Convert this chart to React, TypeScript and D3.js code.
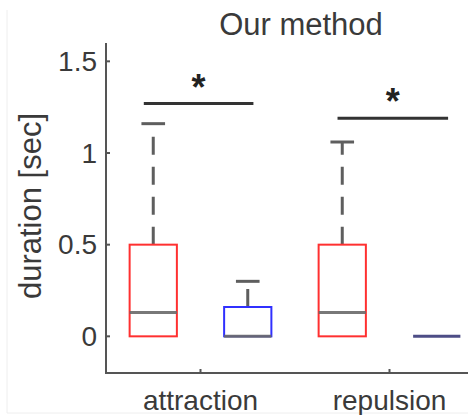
import React from 'react';
import { scaleLinear } from 'd3';

// chart data
const categories = ['attraction', 'repulsion'];
const yTicks = [0, 0.5, 1, 1.5];

// red boxes (left of each category)
const redQ1 = [0, 0];
const redMedian = [0.13, 0.13];
const redQ3 = [0.5, 0.5];
const redWhiskerHigh = [1.16, 1.06];

// blue boxes (right of each category)
const blueQ1 = [0, 0];
const blueMedian = [0, 0];
const blueQ3 = [0.16, 0];
const blueWhiskerHigh = [0.3, 0];

// significance bars
const sigY = [1.27, 1.19];
const sigX0 = [0.7, 1.725];
const sigX1 = [1.28, 2.31];
const sigLabel = ['*', '*'];

const W = 468;
const H = 415;
const font = 'Arial, "Liberation Sans", Helvetica, sans-serif';
const textColor = '#3a3a3a';
const axisColor = '#555';

const x = scaleLinear().domain([0.5, 2.5]).range([106, 484]);
const y = scaleLinear().domain([-0.2, 1.6]).range([373, 43]);

const boxW = 0.25;
const offset = 0.25;

type Box = { pos: number; q1: number; med: number; q3: number; hi: number; color: string };

const boxes: Box[] = [];
categories.forEach((_, i) => {
  boxes.push({ pos: i + 1 - offset, q1: redQ1[i], med: redMedian[i], q3: redQ3[i], hi: redWhiskerHigh[i], color: '#ff3030' });
  boxes.push({ pos: i + 1 + offset, q1: blueQ1[i], med: blueMedian[i], q3: blueQ3[i], hi: blueWhiskerHigh[i], color: '#3030ff' });
});

const BoxPlot = ({ b }: { b: Box }) => {
  const xl = x(b.pos - boxW / 2);
  const xr = x(b.pos + boxW / 2);
  const xc = x(b.pos);
  const capHalf = (xr - xl) / 4;
  return (
    <g>
      {b.hi > b.q3 && (
        <>
          <line x1={xc} x2={xc} y1={y(b.q3)} y2={y(b.hi)} stroke="#5e5e5e" strokeWidth={3} strokeDasharray="18,12" />
          <line x1={xc - capHalf} x2={xc + capHalf} y1={y(b.hi)} y2={y(b.hi)} stroke="#5e5e5e" strokeWidth={3} />
        </>
      )}
      <rect x={xl} y={y(b.q3)} width={xr - xl} height={y(b.q1) - y(b.q3)} fill="none" stroke={b.color} strokeWidth={2} />
      <line x1={xl} x2={xr} y1={y(b.med)} y2={y(b.med)} stroke={b.q3 === b.q1 ? '#3a3a7a' : '#6a6a6a'} strokeWidth={3} opacity={0.9} />
    </g>
  );
};

const App = () => {
  return (
    <svg width={W} height={H} style={{ position: 'absolute', left: 0, top: 0, background: '#fff' }} fontFamily={font}>
      {/* faint frame from the source figure */}
      <line x1={7} x2={7} y1={10} y2={413} stroke="#eee" strokeWidth={1} />
      <line x1={7} x2={W} y1={413} y2={413} stroke="#eee" strokeWidth={1} />

      {/* title */}
      <text x={301} y={35} textAnchor="middle" fontSize={31} fill={textColor}>Our method</text>

      {/* y label */}
      <text transform={`translate(41, ${(y.range()[0] + y.range()[1]) / 2 - 2}) rotate(-90)`} textAnchor="middle" fontSize={31} fill={textColor}>
        duration [sec]
      </text>

      {/* axes */}
      <line x1={x.range()[0]} x2={x.range()[0]} y1={y.range()[1]} y2={y.range()[0] + 1} stroke={axisColor} strokeWidth={2} />
      <line x1={x.range()[0]} x2={x.range()[1]} y1={y.range()[0]} y2={y.range()[0]} stroke={axisColor} strokeWidth={2} />
      {yTicks.map((t) => (
        <g key={t}>
          <line x1={x.range()[0]} x2={x.range()[0] + 4} y1={y(t)} y2={y(t)} stroke={axisColor} strokeWidth={2} />
          <text x={x.range()[0] - 9} y={y(t)} dy="0.35em" textAnchor="end" fontSize={28} fill={textColor}>{t}</text>
        </g>
      ))}
      {categories.map((c, i) => (
        <g key={c}>
          <line x1={x(i + 1)} x2={x(i + 1)} y1={y.range()[0]} y2={y.range()[0] - 4} stroke={axisColor} strokeWidth={2} />
          <text x={x(i + 1)} y={410} textAnchor="middle" fontSize={28} fill={textColor}>{c}</text>
        </g>
      ))}

      {/* boxes */}
      {boxes.map((b, i) => <BoxPlot key={i} b={b} />)}

      {/* significance */}
      {sigY.map((v, i) => (
        <g key={i}>
          <line x1={x(sigX0[i])} x2={x(sigX1[i])} y1={y(v)} y2={y(v)} stroke="#333" strokeWidth={3} />
          <text x={(x(sigX0[i]) + x(sigX1[i])) / 2} y={y(v) - 4} textAnchor="middle" fontSize={36} fontWeight="bold" fill="#222">
            {sigLabel[i]}
          </text>
        </g>
      ))}
    </svg>
  );
};

export default App;
